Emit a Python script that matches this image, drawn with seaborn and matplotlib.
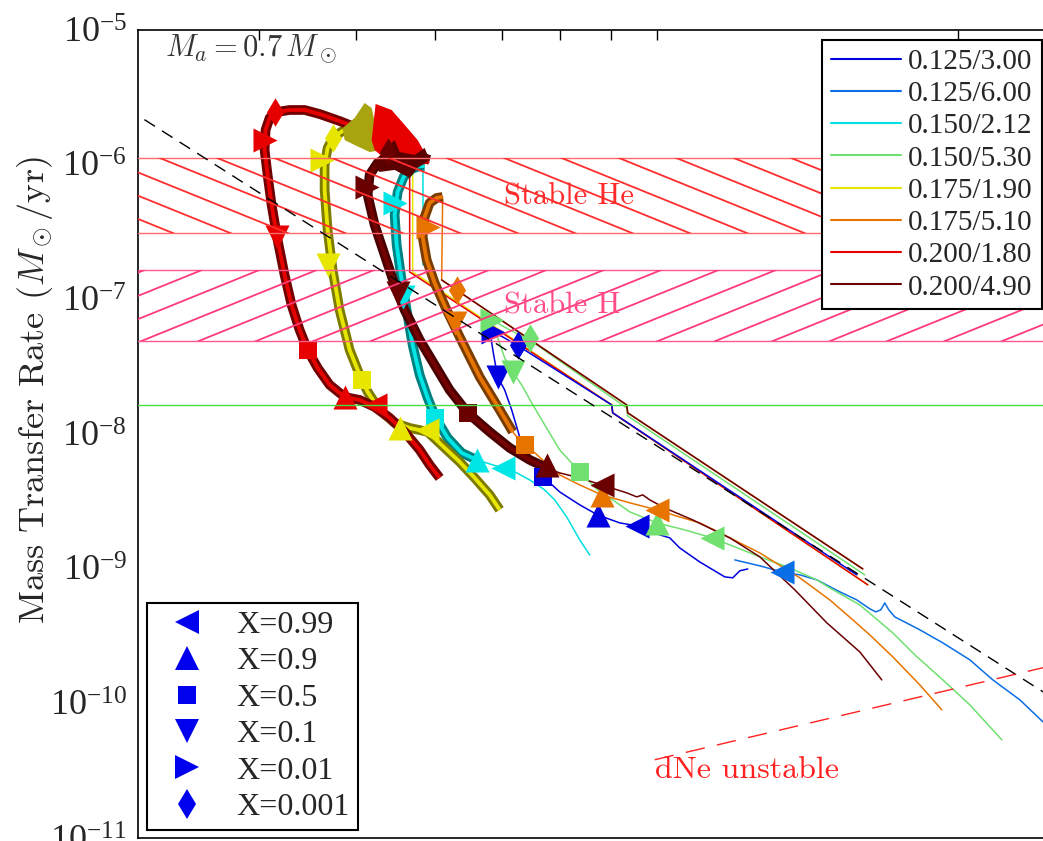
import numpy as np
import matplotlib
matplotlib.use("Agg")
import matplotlib.pyplot as plt
from matplotlib.lines import Line2D
from matplotlib.ticker import FixedLocator, NullLocator, LogLocator, NullFormatter
import seaborn as sns

# ------------------------------------------------------------------
# Data: log10 orbital period (min) and log10 mass transfer rate (Msun/yr)
# ------------------------------------------------------------------
series_labels = ['0.125/3.00', '0.125/6.00', '0.150/2.12', '0.150/5.30',
                 '0.175/1.90', '0.175/5.10', '0.200/1.80', '0.200/4.90']
series_colors = ['#0000e0', '#0a6ee6', '#00e0e0', '#70e070',
                 '#e6e600', '#e87400', '#e60000', '#6b0000']
marker_labels = ['X=0.99', 'X=0.9', 'X=0.5', 'X=0.1', 'X=0.01', 'X=0.001']
marker_shapes = ['<', '^', 's', 'v', '>', 'd']

# 0.125/3.00
blue_lp = [1.091, 1.083, 1.076, 1.068, 1.043, 1.023, 1.013, 1.003, 0.986, 0.963, 0.941, 0.923, 0.903, 0.891,
           0.883, 0.873, 0.863, 0.855, 0.848, 0.841, 0.837, 0.833, 0.848, 0.863, 0.955, 0.956, 1.200]
blue_lm = [-9.002, -9.016, -9.068, -9.061, -8.950, -8.846, -8.771, -8.749, -8.690, -8.660, -8.601, -8.526, -8.430,
           -8.348, -8.267, -8.155, -8.022, -7.821, -7.673, -7.576, -7.413, -7.227, -7.287, -7.353, -7.784, -7.843,
           -9.046]
blue_mk_lp = [0.980, 0.941, 0.886, 0.841, 0.836, 0.861]
blue_mk_lm = [-8.682, -8.601, -8.319, -7.576, -7.242, -7.339]

# 0.125/6.00
mblue_lp = [1.078, 1.103, 1.125, 1.143, 1.160, 1.183, 1.200, 1.213, 1.219, 1.224, 1.228, 1.232, 1.238, 1.263,
            1.286, 1.313, 1.336, 1.363, 1.386, 1.413]
mblue_lm = [-8.935, -8.979, -9.024, -9.046, -9.083, -9.172, -9.232, -9.298, -9.321, -9.306, -9.254, -9.306,
            -9.358, -9.454, -9.551, -9.677, -9.826, -9.974, -10.137, -10.308]
mblue_mk_lp = [1.125, np.nan, np.nan, np.nan, np.nan, np.nan]
mblue_mk_lm = [-9.024, np.nan, np.nan, np.nan, np.nan, np.nan]

# 0.150/2.12
cyan_lp = [0.933, 0.923, 0.910, 0.898, 0.888, 0.873, 0.858, 0.846, 0.833, 0.820]
cyan_lm = [-8.898, -8.786, -8.616, -8.489, -8.415, -8.341, -8.281, -8.252, -8.222, -8.192]
cyan_tube_lp = [0.820, 0.805, 0.791, 0.779, 0.771, 0.763, 0.756, 0.750, 0.745, 0.740, 0.738, 0.741, 0.747,
                0.755, 0.763, 0.768]
cyan_tube_lm = [-8.192, -8.140, -8.029, -7.880, -7.732, -7.561, -7.339, -7.079, -6.856, -6.596, -6.373, -6.203,
                -6.091, -6.032, -6.010, -6.010]
cyan_drop_lp = [0.766, 0.766]
cyan_drop_lm = [-6.010, -6.745]
cyan_mk_lp = [0.846, 0.820, 0.778, 0.746, 0.738, np.nan]
cyan_mk_lm = [-8.252, -8.192, -7.880, -6.982, -6.284, np.nan]

# 0.150/5.30
green_lp = [1.345, 1.313, 1.286, 1.258, 1.236, 1.203, 1.173, 1.160, 1.133, 1.103, 1.078, 1.055, 1.028, 1.000,
            0.973, 0.956, 0.941, 0.923, 0.903, 0.888, 0.875, 0.865, 0.856, 0.848, 0.840, 0.835, 0.853, 0.873,
            0.970, 0.971, 1.208]
green_lm = [-10.271, -10.011, -9.826, -9.640, -9.477, -9.269, -9.143, -9.083, -8.994, -8.912, -8.838, -8.771,
            -8.712, -8.660, -8.578, -8.489, -8.415, -8.281, -8.118, -7.932, -7.769, -7.635, -7.539, -7.435,
            -7.264, -7.153, -7.227, -7.301, -7.806, -7.866, -9.046]
green_mk_lp = [1.055, 1.000, 0.923, 0.856, 0.835, 0.873]
green_mk_lm = [-8.771, -8.660, -8.281, -7.539, -7.153, -7.286]

# 0.175/1.90
yellow_tube_lp = [0.843, 0.833, 0.818, 0.803, 0.788, 0.771, 0.753, 0.738, 0.723, 0.711, 0.703, 0.693, 0.683,
                  0.676, 0.671, 0.668, 0.668, 0.671, 0.677, 0.686, 0.698, 0.713, 0.728, 0.743, 0.756]
yellow_tube_lm = [-8.563, -8.452, -8.326, -8.207, -8.103, -7.984, -7.955, -7.918, -7.821, -7.687, -7.561,
                  -7.376, -7.079, -6.782, -6.485, -6.188, -6.002, -5.876, -5.794, -5.750, -5.757, -5.802,
                  -5.854, -5.906, -5.965]
yellow_lp = [0.756, 0.756, 0.955, 0.956, 1.211]
yellow_lm = [-5.965, -6.797, -7.784, -7.843, -9.120]
yellow_noise_lp = [0.686, 0.698, 0.708, 0.715, 0.721, 0.726, 0.713, 0.698, 0.688]
yellow_noise_lm = [-5.728, -5.653, -5.542, -5.579, -5.780, -5.891, -5.906, -5.854, -5.817]
yellow_mk_lp = [0.770, 0.743, 0.705, 0.671, 0.665, 0.676]
yellow_mk_lm = [-7.970, -7.955, -7.598, -6.745, -5.965, -5.802]

# 0.175/5.10
orange_lp = [1.285, 1.263, 1.236, 1.213, 1.196, 1.173, 1.143, 1.103, 1.073, 1.043, 1.023, 1.000, 0.973, 0.945,
             0.923, 0.903, 0.888, 0.875, 0.866, 0.856]
orange_lm = [-10.048, -9.863, -9.655, -9.492, -9.380, -9.232, -9.068, -8.883, -8.771, -8.660, -8.616, -8.563,
             -8.511, -8.452, -8.378, -8.304, -8.207, -8.118, -8.074, -7.984]
orange_tube_lp = [0.856, 0.843, 0.823, 0.803, 0.790, 0.778, 0.770, 0.766, 0.768, 0.773, 0.780, 0.786]
orange_tube_lm = [-7.984, -7.821, -7.576, -7.279, -7.079, -6.878, -6.707, -6.537, -6.388, -6.284, -6.247, -6.240]
orange_drop_lp = [0.786, 0.785, 0.970, 0.971, 1.206]
orange_drop_lm = [-6.240, -6.856, -7.784, -7.843, -9.002]
orange_mk_lp = [1.000, 0.945, 0.868, 0.798, 0.771, 0.800]
orange_mk_lm = [-8.563, -8.452, -8.081, -7.175, -6.462, -6.930]

# 0.200/1.80
red_tube_lp = [0.783, 0.773, 0.763, 0.748, 0.733, 0.718, 0.703, 0.688, 0.673, 0.661, 0.651, 0.643, 0.635,
               0.628, 0.621, 0.615, 0.611, 0.608, 0.609, 0.613, 0.620, 0.633, 0.648, 0.663, 0.683, 0.703,
               0.723, 0.743, 0.758, 0.771]
red_tube_lm = [-8.326, -8.229, -8.118, -7.984, -7.880, -7.799, -7.747, -7.725, -7.635, -7.509, -7.376, -7.227,
               -7.042, -6.819, -6.559, -6.299, -6.076, -5.891, -5.742, -5.653, -5.609, -5.594, -5.594, -5.624,
               -5.676, -5.735, -5.780, -5.854, -5.913, -5.965]
red_lp = [0.753, 0.753, 0.955, 0.956, 1.211]
red_lm = [-5.965, -6.797, -7.784, -7.843, -9.120]
red_noise_lp = [0.715, 0.719, 0.735, 0.748, 0.761, 0.771, 0.773, 0.753, 0.733, 0.718]
red_noise_lm = [-5.817, -5.549, -5.594, -5.705, -5.817, -5.950, -5.987, -6.024, -5.987, -5.891]
red_mk_lp = [0.718, 0.688, 0.651, 0.620, 0.608, 0.618]
red_mk_lm = [-7.784, -7.725, -7.376, -6.537, -5.817, -5.609]

# 0.200/4.90
dred_lp = [1.225, 1.203, 1.170, 1.138, 1.103, 1.073, 1.036, 1.008, 0.993, 0.986, 0.980, 0.970, 0.945, 0.923,
           0.903, 0.890]
dred_lm = [-9.826, -9.618, -9.402, -9.157, -8.912, -8.771, -8.638, -8.549, -8.489, -8.452, -8.467, -8.437,
           -8.378, -8.326, -8.289, -8.252]
dred_tube_lp = [0.890, 0.873, 0.853, 0.833, 0.811, 0.793, 0.778, 0.763, 0.748, 0.738, 0.728, 0.718, 0.711,
                0.713, 0.721, 0.733, 0.748, 0.763, 0.773]
dred_tube_lm = [-8.252, -8.192, -8.103, -7.984, -7.843, -7.673, -7.487, -7.301, -7.079, -6.893, -6.670, -6.448,
                -6.225, -6.076, -5.987, -5.943, -5.928, -5.943, -5.965]
dred_drop_lp = [0.785, 0.970, 0.971, 1.206]
dred_drop_lm = [-6.856, -7.784, -7.843, -9.002]
dred_noise_lp = [0.715, 0.728, 0.738, 0.743, 0.758, 0.768, 0.773, 0.761, 0.753, 0.738, 0.723]
dred_noise_lm = [-6.002, -5.891, -5.817, -5.906, -5.928, -5.876, -5.965, -6.024, -6.099, -6.039, -6.054]
dred_mk_lp = [0.945, 0.890, 0.811, 0.741, 0.710, 0.731]
dred_mk_lm = [-8.378, -8.229, -7.843, -6.953, -6.166, -5.906]

# Reference regions and lines
stable_he = (3.1e-7, 1.12e-6)
stable_h = (4.9e-8, 1.65e-7)
green_level = 1.64e-8
scaling_lp = [0.40, 1.50]          # black dashed relation
scaling_lm = [-5.250, -10.453]
dne_lp = [0.998, 1.50]             # dNe unstable boundary
dne_lm = [-10.419, -9.535]

xlim = (3.03, 30.0)
ylim = (1e-11, 1e-5)

# ------------------------------------------------------------------
sns.set_theme(style="white")
plt.rcParams['font.family'] = ['Liberation Serif', 'DejaVu Serif']
plt.rcParams['mathtext.fontset'] = 'stix'

fig = plt.figure(figsize=(10.43, 8.41), dpi=100)
ax = fig.add_axes([138 / 1043, 3 / 841, 996 / 1043, 808 / 841])
ax.set_xscale('log')
ax.set_yscale('log')
ax.set_xlim(*xlim)
ax.set_ylim(*ylim)


def P(a):
    return 10 ** np.asarray(a, dtype=float)


def thin(lp, lm, color, lw=1.1, z=3):
    sns.lineplot(x=P(lp), y=P(lm), sort=False, estimator=None, color=color,
                 linewidth=lw, ax=ax, legend=False, zorder=z)


def tube(lp, lm, outer, inner, z=4):
    sns.lineplot(x=P(lp), y=P(lm), sort=False, estimator=None, color=outer,
                 linewidth=7.0, ax=ax, legend=False, zorder=z, solid_capstyle='butt')
    sns.lineplot(x=P(lp), y=P(lm), sort=False, estimator=None, color=inner,
                 linewidth=2.8, ax=ax, legend=False, zorder=z + 0.01, solid_capstyle='butt')


# thin tracks
thin(mblue_lp, mblue_lm, series_colors[1])
thin(green_lp, green_lm, series_colors[3])
thin(orange_lp, orange_lm, series_colors[5])
thin(orange_drop_lp, orange_drop_lm, series_colors[5])
thin(dred_lp, dred_lm, series_colors[7])
thin(dred_drop_lp, dred_drop_lm, series_colors[7])
thin(cyan_lp, cyan_lm, series_colors[2])
thin(cyan_drop_lp, cyan_drop_lm, series_colors[2])
thin(yellow_lp, yellow_lm, series_colors[4])
thin(red_lp, red_lm, series_colors[6])
thin(blue_lp, blue_lm, series_colors[0])

# thick (burning) phases
tube(cyan_tube_lp, cyan_tube_lm, '#008080', '#00e6e6', z=4.0)
tube(orange_tube_lp, orange_tube_lm, '#7a3c00', '#e87400', z=4.1)
tube(yellow_tube_lp, yellow_tube_lm, '#7d7a00', '#e6e600', z=4.2)
tube(dred_tube_lp, dred_tube_lm, '#4a0000', '#760000', z=4.3)
tube(red_tube_lp, red_tube_lm, '#720000', '#e60000', z=4.4)
ax.fill(P(yellow_noise_lp), P(yellow_noise_lm), color='#a8a410', zorder=4.5, lw=0)
ax.fill(P(red_noise_lp), P(red_noise_lm), color='#e60000', zorder=4.6, lw=0)
ax.fill(P(dred_noise_lp), P(dred_noise_lm), color='#5a0000', zorder=4.7, lw=0)

# abundance markers
marker_sets = [(blue_mk_lp, blue_mk_lm, series_colors[0]),
               (mblue_mk_lp, mblue_mk_lm, series_colors[1]),
               (cyan_mk_lp, cyan_mk_lm, '#00e6e6'),
               (green_mk_lp, green_mk_lm, series_colors[3]),
               (yellow_mk_lp, yellow_mk_lm, series_colors[4]),
               (orange_mk_lp, orange_mk_lm, series_colors[5]),
               (red_mk_lp, red_mk_lm, series_colors[6]),
               (dred_mk_lp, dred_mk_lm, series_colors[7])]
marker_area = {'<': 300, '^': 300, 'v': 300, '>': 300, 's': 175, 'd': 210}
for mlp, mlm, col in marker_sets:
    for i, m in enumerate(marker_shapes):
        if np.isnan(mlp[i]):
            continue
        sns.scatterplot(x=[P(mlp[i])], y=[P(mlm[i])], marker=m, s=marker_area[m], color=col,
                        linewidth=0, ax=ax, legend=False, zorder=6)

# stability bands with slanted hatching
hatch_slope = 0.405      # pixel slope of hatch lines
hatch_step = 57.4        # pixel spacing of hatch lines
W, H = ax.bbox.width, ax.bbox.height
ly0, ly1 = np.log10(ylim[0]), np.log10(ylim[1])


def band(lo, hi, edge, hcol, direction, phase):
    span = ax.axhspan(lo, hi, facecolor='none', edgecolor='none', zorder=7)
    ax.axhline(lo, color=edge, lw=1.0, zorder=7)
    ax.axhline(hi, color=edge, lw=1.0, zorder=7)
    s = hatch_slope * W / H
    fyb = (np.log10(lo) - ly0) / (ly1 - ly0)
    step = hatch_step / W
    for k in range(-30, 30):
        x0 = phase + k * step
        xs = np.array([x0 - 1.5, x0 + 1.5])
        ys = fyb + direction * s * (xs - x0)
        ln, = ax.plot(xs, ys, transform=ax.transAxes, color=hcol, lw=1.3, zorder=7)
        ln.set_clip_path(span)


band(*stable_he, '#ff6a6a', '#ff2e2e', -1, 0.554)
band(*stable_h, '#ff5a90', '#ff3a7a', +1, 0.522)
ax.axhline(green_level, color='#44dd44', lw=1.0, zorder=7)

sns.lineplot(x=P(scaling_lp), y=P(scaling_lm), sort=False, estimator=None, color='black', lw=1.0,
             ax=ax, legend=False, zorder=8).lines[-1].set_dashes((9, 6))
sns.lineplot(x=P(dne_lp), y=P(dne_lm), sort=False, estimator=None, color='#ff2020', lw=1.0,
             ax=ax, legend=False, zorder=8).lines[-1].set_dashes((14, 9))

ax.set_xlim(*xlim)
ax.set_ylim(*ylim)

# annotations
cm_kw = dict(fontfamily='cmr10', math_fontfamily='cm')
ax.text(8.18, 5.75e-7, 'Stable He', color='#ff2a2a', fontsize=22, ha='center', va='center', zorder=9, **cm_kw)
ax.text(8.04, 8.9e-8, 'Stable H', color='#ff4d88', fontsize=22, ha='center', va='center', zorder=9, **cm_kw)
ax.text(12.3, 3.2e-11, 'dNe unstable', color='#ff2020', fontsize=23, ha='center', va='center', zorder=9,
        **cm_kw)
ax.text(0.027, 0.977, r'$M_a = 0.7\,M_\odot$', transform=ax.transAxes, color='#333333', fontsize=22,
        ha='left', va='center', math_fontfamily='cm', zorder=9)

# axes styling
ax.set_ylabel(r'Mass Transfer Rate ($M_\odot$/yr)', fontsize=26, fontfamily='cmr10', math_fontfamily='cm')
ax.yaxis.set_label_coords(-0.083, 0.554)
ax.set_xlabel('')
ax.xaxis.set_major_locator(FixedLocator([4, 5, 6, 7, 8, 9, 10, 20]))
ax.xaxis.set_minor_locator(NullLocator())
ax.yaxis.set_major_locator(LogLocator(base=10, numticks=20))
ax.yaxis.set_minor_locator(LogLocator(base=10, subs=np.arange(2, 10), numticks=20))
ax.yaxis.set_minor_formatter(NullFormatter())
ax.tick_params(which='both', direction='in', top=True, right=True, color='black', width=1.0)
ax.tick_params(which='major', length=7, labelsize=26, pad=8)
ax.tick_params(which='minor', length=3.5)
ax.tick_params(axis='x', labelbottom=False)
for sp in ax.spines.values():
    sp.set_color('black')
    sp.set_linewidth(1.2)

# legends
line_handles = [Line2D([0], [0], color=c, lw=1.5) for c in series_colors]
leg1 = ax.legend(line_handles, series_labels, loc='upper left', bbox_to_anchor=(0.687, 0.988),
                 borderaxespad=0, prop={'family': 'Liberation Serif', 'size': 21}, frameon=True,
                 fancybox=False, edgecolor='black', framealpha=1, handlelength=2.4, handletextpad=0.25,
                 labelspacing=0.2, borderpad=0.3)
leg1.get_frame().set_linewidth(1.5)
leg1.set_zorder(20)
ax.add_artist(leg1)

msize = {'<': 17, '^': 17, 'v': 17, '>': 17, 's': 13, 'd': 15}
marker_handles = [Line2D([0], [0], ls='none', marker=m, color='#0000ee', markersize=msize[m],
                         markeredgewidth=0) for m in marker_shapes]
leg2 = ax.legend(marker_handles, marker_labels, loc='lower left', bbox_to_anchor=(0.009, 0.0099),
                 borderaxespad=0, prop={'family': 'Liberation Serif', 'size': 23}, frameon=True,
                 fancybox=False, edgecolor='black', framealpha=1, handlelength=2.0, handletextpad=0.55,
                 labelspacing=0.22, borderpad=0.25)
leg2.get_frame().set_linewidth(1.5)
leg2.set_zorder(20)

fig.savefig('out.png', dpi=100)
